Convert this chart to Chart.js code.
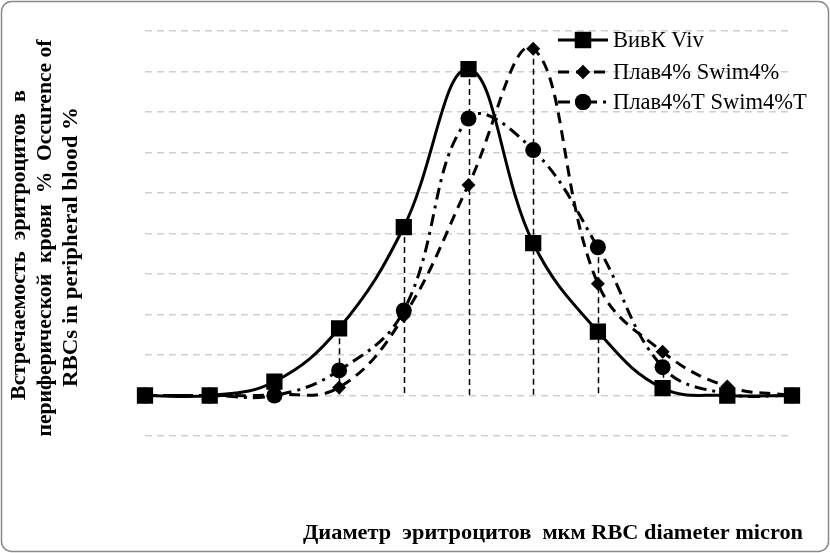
<!DOCTYPE html>
<html><head><meta charset="utf-8">
<script src="https://cdn.jsdelivr.net/npm/chart.js@4"></script>
<style>html,body{margin:0;padding:0;background:#fff}#wrap{width:830px;height:553px;position:relative}</style>
</head><body><div id="wrap"><canvas id="c" width="830" height="553"></canvas></div>
<script>
const categories = ['1','2','3','4','5','6','7','8','9','10','11'];
const vivValues    = [0, 0, 1.7, 8.3, 20.8, 40.3, 18.8, 7.9, 0.9, 0, 0];
const swimValues   = [0, 0, 0.1, 1.0, 9.8, 26.0, 42.8, 13.8, 5.4, 1.1, 0];
const swimTValues  = [0, 0, 0, 3.1, 10.5, 34.2, 30.3, 18.3, 3.5, 0.2, 0];
const seriesLabels = ['ВивК Viv', 'Плав4% Swim4%', 'Плав4%T Swim4%T'];
const yTitleLines = ['Встречаемость  эритроцитов  в', 'периферической  крови  %  Occurence of', 'RBCs in peripheral blood %'];
const xTitle = 'Диаметр  эритроцитов  мкм RBC diameter micron';

const SERIF = '"Liberation Serif", "Times New Roman", serif';

// draw text centred at (cx,cy) fitted to a given length along its direction
function fitText(ctx, text, cx, cy, len, rot) {
  const w = ctx.measureText(text).width;
  ctx.save();
  ctx.translate(cx, cy);
  ctx.rotate(rot);
  ctx.scale(len / w, 1);
  ctx.textAlign = 'center';
  ctx.textBaseline = 'middle';
  ctx.fillText(text, 0, 0);
  ctx.restore();
}

const decor = {
  id: 'decor',
  beforeDraw(chart) {
    const ctx = chart.ctx;
    ctx.save();
    ctx.fillStyle = '#fff';
    ctx.fillRect(0, 0, chart.width, chart.height);
    ctx.strokeStyle = '#8a8a8a';
    ctx.lineWidth = 1.5;
    ctx.beginPath();
    ctx.roundRect(1.5, 1.5, chart.width - 3, chart.height - 3, 10);
    ctx.stroke();
    ctx.restore();
  },
  beforeDatasetsDraw(chart) {
    const ctx = chart.ctx, ys = chart.scales.y, xs = chart.scales.x;
    ctx.save();
    ctx.strokeStyle = '#000';
    ctx.lineWidth = 1.5;
    ctx.setLineDash([6, 4]);
    categories.forEach((c, i) => {
      const m = Math.max(...chart.data.datasets.map(d => d.data[i]));
      if (m <= 0) return;
      const x = Math.round(xs.getPixelForValue(i)) + 0.5;
      ctx.beginPath();
      ctx.moveTo(x, ys.getPixelForValue(m));
      ctx.lineTo(x, ys.getPixelForValue(0));
      ctx.stroke();
    });
    ctx.restore();
  },
  afterDraw(chart) {
    const ctx = chart.ctx;
    ctx.save();
    ctx.fillStyle = '#000';
    // Y title (three rotated lines)
    ctx.font = 'bold 21px ' + SERIF;
    const yl = [[20, 245, 310], [46, 238, 397], [72, 247, 280]];
    yTitleLines.forEach((t, i) => fitText(ctx, t, yl[i][0], yl[i][1], yl[i][2], -Math.PI / 2));
    // X title
    fitText(ctx, xTitle, 553, 534, 500, 0);
    // Legend
    const ys = [40, 72, 102];
    ctx.font = '22.5px ' + SERIF;
    chart.data.datasets.forEach((d, i) => {
      const y = ys[i];
      ctx.save();
      ctx.strokeStyle = '#000';
      ctx.lineWidth = 3;
      ctx.setLineDash(d.borderDash || []);
      ctx.beginPath();
      ctx.moveTo(558, y); ctx.lineTo(608, y);
      ctx.stroke();
      ctx.setLineDash([]);
      Chart.helpers.drawPoint(ctx, {pointStyle: d.pointStyle, radius: d.pointRadius, rotation: 0, borderWidth: 0}, 583, y);
      ctx.fillStyle = '#000';
      ctx.fill();
      ctx.restore();
      ctx.textAlign = 'left';
      ctx.textBaseline = 'middle';
      ctx.fillText(d.label, 613, y + 1);
    });
    ctx.restore();
  }
};

new Chart(document.getElementById('c'), {
  type: 'line',
  data: {
    labels: categories,
    datasets: [
      { label: seriesLabels[0], data: vivValues, borderColor: '#000', backgroundColor: '#000', borderWidth: 3,
        tension: 0.4, pointStyle: 'rect', pointRadius: 11.5, pointBorderWidth: 0, order: 0 },
      { label: seriesLabels[1], data: swimValues, borderColor: '#000', backgroundColor: '#000', borderWidth: 3,
        borderDash: [11, 7], tension: 0.4, pointStyle: 'rectRot', pointRadius: 7, pointBorderWidth: 0, order: 2 },
      { label: seriesLabels[2], data: swimTValues, borderColor: '#000', backgroundColor: '#000', borderWidth: 3,
        borderDash: [12, 6, 3, 6], tension: 0.4, pointStyle: 'circle', pointRadius: 8, pointBorderWidth: 0, order: 1 }
    ]
  },
  options: {
    responsive: false, animation: false, devicePixelRatio: 1,
    layout: { padding: { left: 145, right: 38, top: 31, bottom: 109 } },
    plugins: { legend: { display: false }, tooltip: { enabled: false } },
    scales: {
      x: { type: 'category', offset: false, grid: { display: false }, border: { display: false }, ticks: { display: false } },
      y: { min: -5, max: 45, ticks: { display: false, stepSize: 5 }, border: { display: false, dash: [7, 5] },
           grid: { color: '#cfcfcf', lineWidth: 1.5, drawTicks: false }
      }
    }
  },
  plugins: [decor]
});
</script>
</body></html>
